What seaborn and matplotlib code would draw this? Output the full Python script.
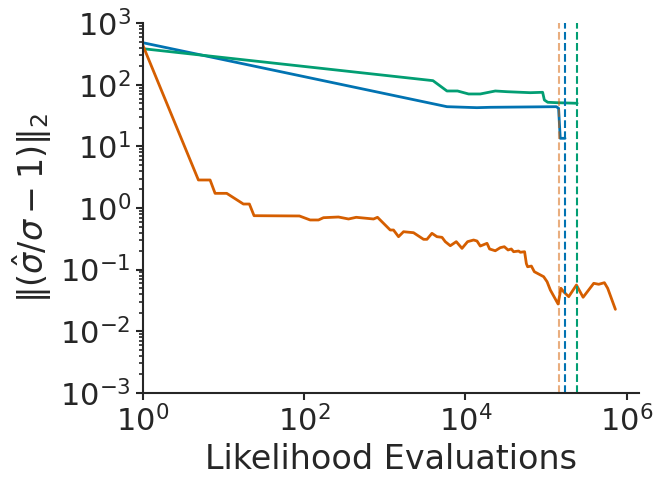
import numpy as np
import pandas as pd
import matplotlib
matplotlib.use("Agg")
import matplotlib.pyplot as plt
import seaborn as sns

# likelihood evaluations (x) and error norm (y)
blue_x = [1, 5910, 13900, 20400, 134000, 143000, 150000, 172000]
blue_y = [484, 44.2, 42.6, 43.2, 44.2, 41.6, 13.55, 13.55]

green_x = [1, 3963, 5910, 8000, 10960, 15300, 23480, 32800, 63800, 90700,
           95300, 105000, 137000, 243000]
green_y = [387, 117, 79.5, 79.5, 71.1, 71.1, 79.5, 77.4, 74.6, 75.7,
           56.8, 52.1, 51.3, 50.2]

orange_x = [1, 4.9, 6.84, 7.89, 11.0, 17.7, 21.0, 24.0, 87.7, 119, 151, 174,
            267, 356, 443, 727, 814, 1170, 1285, 1483, 1711, 2277, 3030, 3340,
            3850, 4440, 5130, 5630, 6500, 7710, 9080, 10650, 12640, 13930,
            15300, 18540, 19960, 23480, 27100, 30400, 33800, 37100, 39600,
            45700, 48000, 54200, 57000, 59100, 65800, 71600, 93400, 103000,
            113000, 141000, 153000, 165000, 191000, 238000, 288000, 390000,
            450000, 529000, 581000, 724000]
orange_y = [444, 2.85, 2.85, 1.73, 1.73, 1.16, 1.16, 0.750, 0.742, 0.639,
            0.639, 0.696, 0.714, 0.663, 0.706, 0.663, 0.706, 0.439, 0.439,
            0.342, 0.412, 0.397, 0.310, 0.310, 0.388, 0.342, 0.334, 0.284,
            0.244, 0.284, 0.221, 0.284, 0.302, 0.291, 0.241, 0.267, 0.216,
            0.202, 0.227, 0.235, 0.208, 0.216, 0.195, 0.200, 0.191, 0.195,
            0.125, 0.111, 0.114, 0.0923, 0.0766, 0.0635, 0.0466, 0.0276,
            0.0497, 0.0437, 0.0363, 0.0561, 0.0355, 0.0598, 0.0577, 0.0612,
            0.0497, 0.0226]

# vertical dashed markers
stop_x = {"orange": 146000, "blue": 172000, "green": 243000}

colors = {"blue": "#0173b2", "green": "#029e73", "orange": "#d55e00"}

sns.set_theme(style="ticks")
plt.rcParams.update({
    "font.family": ["DejaVu Sans"],
    "axes.linewidth": 1.5,
    "xtick.major.width": 1.5,
    "ytick.major.width": 1.5,
    "xtick.minor.width": 1.2,
    "ytick.minor.width": 1.2,
    "xtick.major.size": 5,
    "ytick.major.size": 5,
    "xtick.minor.size": 3,
    "ytick.minor.size": 3,
    "xtick.labelsize": 22,
    "ytick.labelsize": 22,
    "axes.labelsize": 24,
})

fig = plt.figure(figsize=(6.62, 4.87), dpi=100)
ax = fig.add_axes([0.2156, 0.1936, 0.9653 - 0.2156, 0.9522 - 0.1936])

series = [("blue", blue_x, blue_y), ("green", green_x, green_y),
          ("orange", orange_x, orange_y)]
for name, xs, ys in series:
    df = pd.DataFrame({"x": xs, "y": ys})
    sns.lineplot(data=df, x="x", y="y", color=colors[name], lw=2,
                 estimator=None, sort=False, ax=ax)

ax.set(xscale="log", yscale="log")
ax.axvline(stop_x["orange"], color=colors["orange"], alpha=0.5, ls="--", lw=1.5)
ax.axvline(stop_x["blue"], color=colors["blue"], ls="--", lw=1.5)
ax.axvline(stop_x["green"], color=colors["green"], ls="--", lw=1.5)

ax.set_xlim(left=1)
ax.set_ylim(1e-3, 1e3)
ax.set_xlabel("Likelihood Evaluations")
ax.set_ylabel(r"$\|(\hat{\sigma}/\sigma - 1)\|_2$")
sns.despine(ax=ax)

fig.savefig("out.png", dpi=100)
